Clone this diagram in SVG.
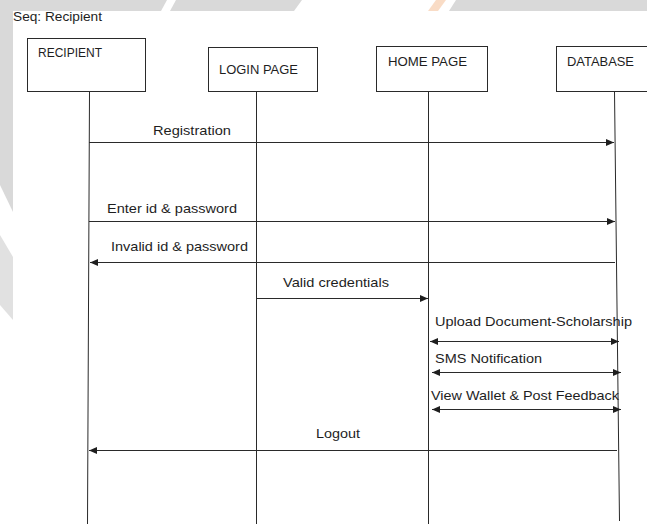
<svg xmlns="http://www.w3.org/2000/svg" width="647" height="527" viewBox="0 0 647 527">
  <style>
    .lbl { font-family: "Liberation Sans", Arial, sans-serif; font-size: 13.5px; fill: #1e1e1e; }
    .box { fill: #ffffff; stroke: #2a2a2a; stroke-width: 1; }
    .life { stroke: #2a2a2a; stroke-width: 1; fill: none; }
    .msg { stroke: #2a2a2a; stroke-width: 1; fill: none; }
    .wm { fill: #d9d9d9; }
  </style>
  <defs>
    <marker id="arrow" markerUnits="userSpaceOnUse" markerWidth="9" markerHeight="8" refX="8" refY="3.5" orient="auto-start-reverse">
      <path d="M0,0 L8,3.5 L0,7 z" fill="#1e1e1e"/>
    </marker>
  </defs>

  <!-- page background -->
  <rect x="0" y="0" width="647" height="527" fill="#ffffff"/>

  <!-- faint background emblem in the page margins -->
  <g id="emblem">
    <polygon class="wm" points="0,0 167,0 161,11 0,11"/>
    <polygon class="wm" points="176,0 302,0 294,11 170,11"/>
    <polygon points="436,0 446,0 438,11 428,11" fill="#f8d3b8" opacity="0.8"/>
    <polygon class="wm" points="456,0 647,0 647,11 449,11"/>
    <polygon class="wm" points="0,0 13,0 13,212 0,185"/>
    <polygon points="0,235 13,257 13,320 0,305" fill="#e1e1e1"/>
  </g>

  <text id="title" class="lbl" x="13" y="21" textLength="89" lengthAdjust="spacingAndGlyphs">Seq: Recipient</text>

  <!-- participants -->
  <g id="recipient">
    <rect class="box" x="27.5" y="38.5" width="118" height="53"/>
    <text class="lbl" x="38" y="57" textLength="64" lengthAdjust="spacingAndGlyphs">RECIPIENT</text>
    <line class="life" x1="89.5" y1="91.5" x2="87.5" y2="524"/>
  </g>
  <g id="login-page">
    <rect class="box" x="208.5" y="47.5" width="109" height="44"/>
    <text class="lbl" x="219" y="74" textLength="79" lengthAdjust="spacingAndGlyphs">LOGIN PAGE</text>
    <line class="life" x1="256.5" y1="91.5" x2="256.5" y2="524"/>
  </g>
  <g id="home-page">
    <rect class="box" x="376.5" y="46.5" width="111" height="45"/>
    <text class="lbl" x="388" y="66" textLength="79" lengthAdjust="spacingAndGlyphs">HOME PAGE</text>
    <line class="life" x1="428.5" y1="91.5" x2="428.5" y2="524"/>
  </g>
  <g id="database">
    <rect class="box" x="556.5" y="46.5" width="100" height="45"/>
    <text class="lbl" x="567" y="66" textLength="67" lengthAdjust="spacingAndGlyphs">DATABASE</text>
    <line class="life" x1="614.5" y1="91.5" x2="619.5" y2="521"/>
  </g>

  <!-- messages -->
  <g id="connectors">
    <line class="msg" x1="89" y1="142.5" x2="614" y2="142.5" marker-end="url(#arrow)"/>
    <line class="msg" x1="89" y1="221.5" x2="615" y2="221.5" marker-end="url(#arrow)"/>
    <line class="msg" x1="615" y1="262.5" x2="90" y2="262.5" marker-end="url(#arrow)"/>
    <line class="msg" x1="257" y1="298.5" x2="428" y2="298.5" marker-end="url(#arrow)"/>
    <line class="msg" x1="430" y1="341.5" x2="619" y2="341.5" marker-start="url(#arrow)" marker-end="url(#arrow)"/>
    <line class="msg" x1="432" y1="372.5" x2="621" y2="372.5" marker-start="url(#arrow)" marker-end="url(#arrow)"/>
    <line class="msg" x1="432" y1="409.5" x2="621" y2="409.5" marker-start="url(#arrow)" marker-end="url(#arrow)"/>
    <line class="msg" x1="617" y1="450.5" x2="89" y2="450.5" marker-end="url(#arrow)"/>
  </g>

  <g id="message-labels">
    <text class="lbl" x="153" y="135" textLength="78" lengthAdjust="spacingAndGlyphs">Registration</text>
    <text class="lbl" x="107" y="213" textLength="130" lengthAdjust="spacingAndGlyphs">Enter id &amp; password</text>
    <text class="lbl" x="111" y="251" textLength="137" lengthAdjust="spacingAndGlyphs">Invalid id &amp; password</text>
    <text class="lbl" x="283" y="287" textLength="106" lengthAdjust="spacingAndGlyphs">Valid credentials</text>
    <text class="lbl" x="435" y="326" textLength="197" lengthAdjust="spacingAndGlyphs">Upload Document-Scholarship</text>
    <text class="lbl" x="435" y="363" textLength="107" lengthAdjust="spacingAndGlyphs">SMS Notification</text>
    <text class="lbl" x="431" y="400" textLength="188" lengthAdjust="spacingAndGlyphs">View Wallet &amp; Post Feedback</text>
    <text class="lbl" x="316" y="438" textLength="44" lengthAdjust="spacingAndGlyphs">Logout</text>
  </g>
</svg>
